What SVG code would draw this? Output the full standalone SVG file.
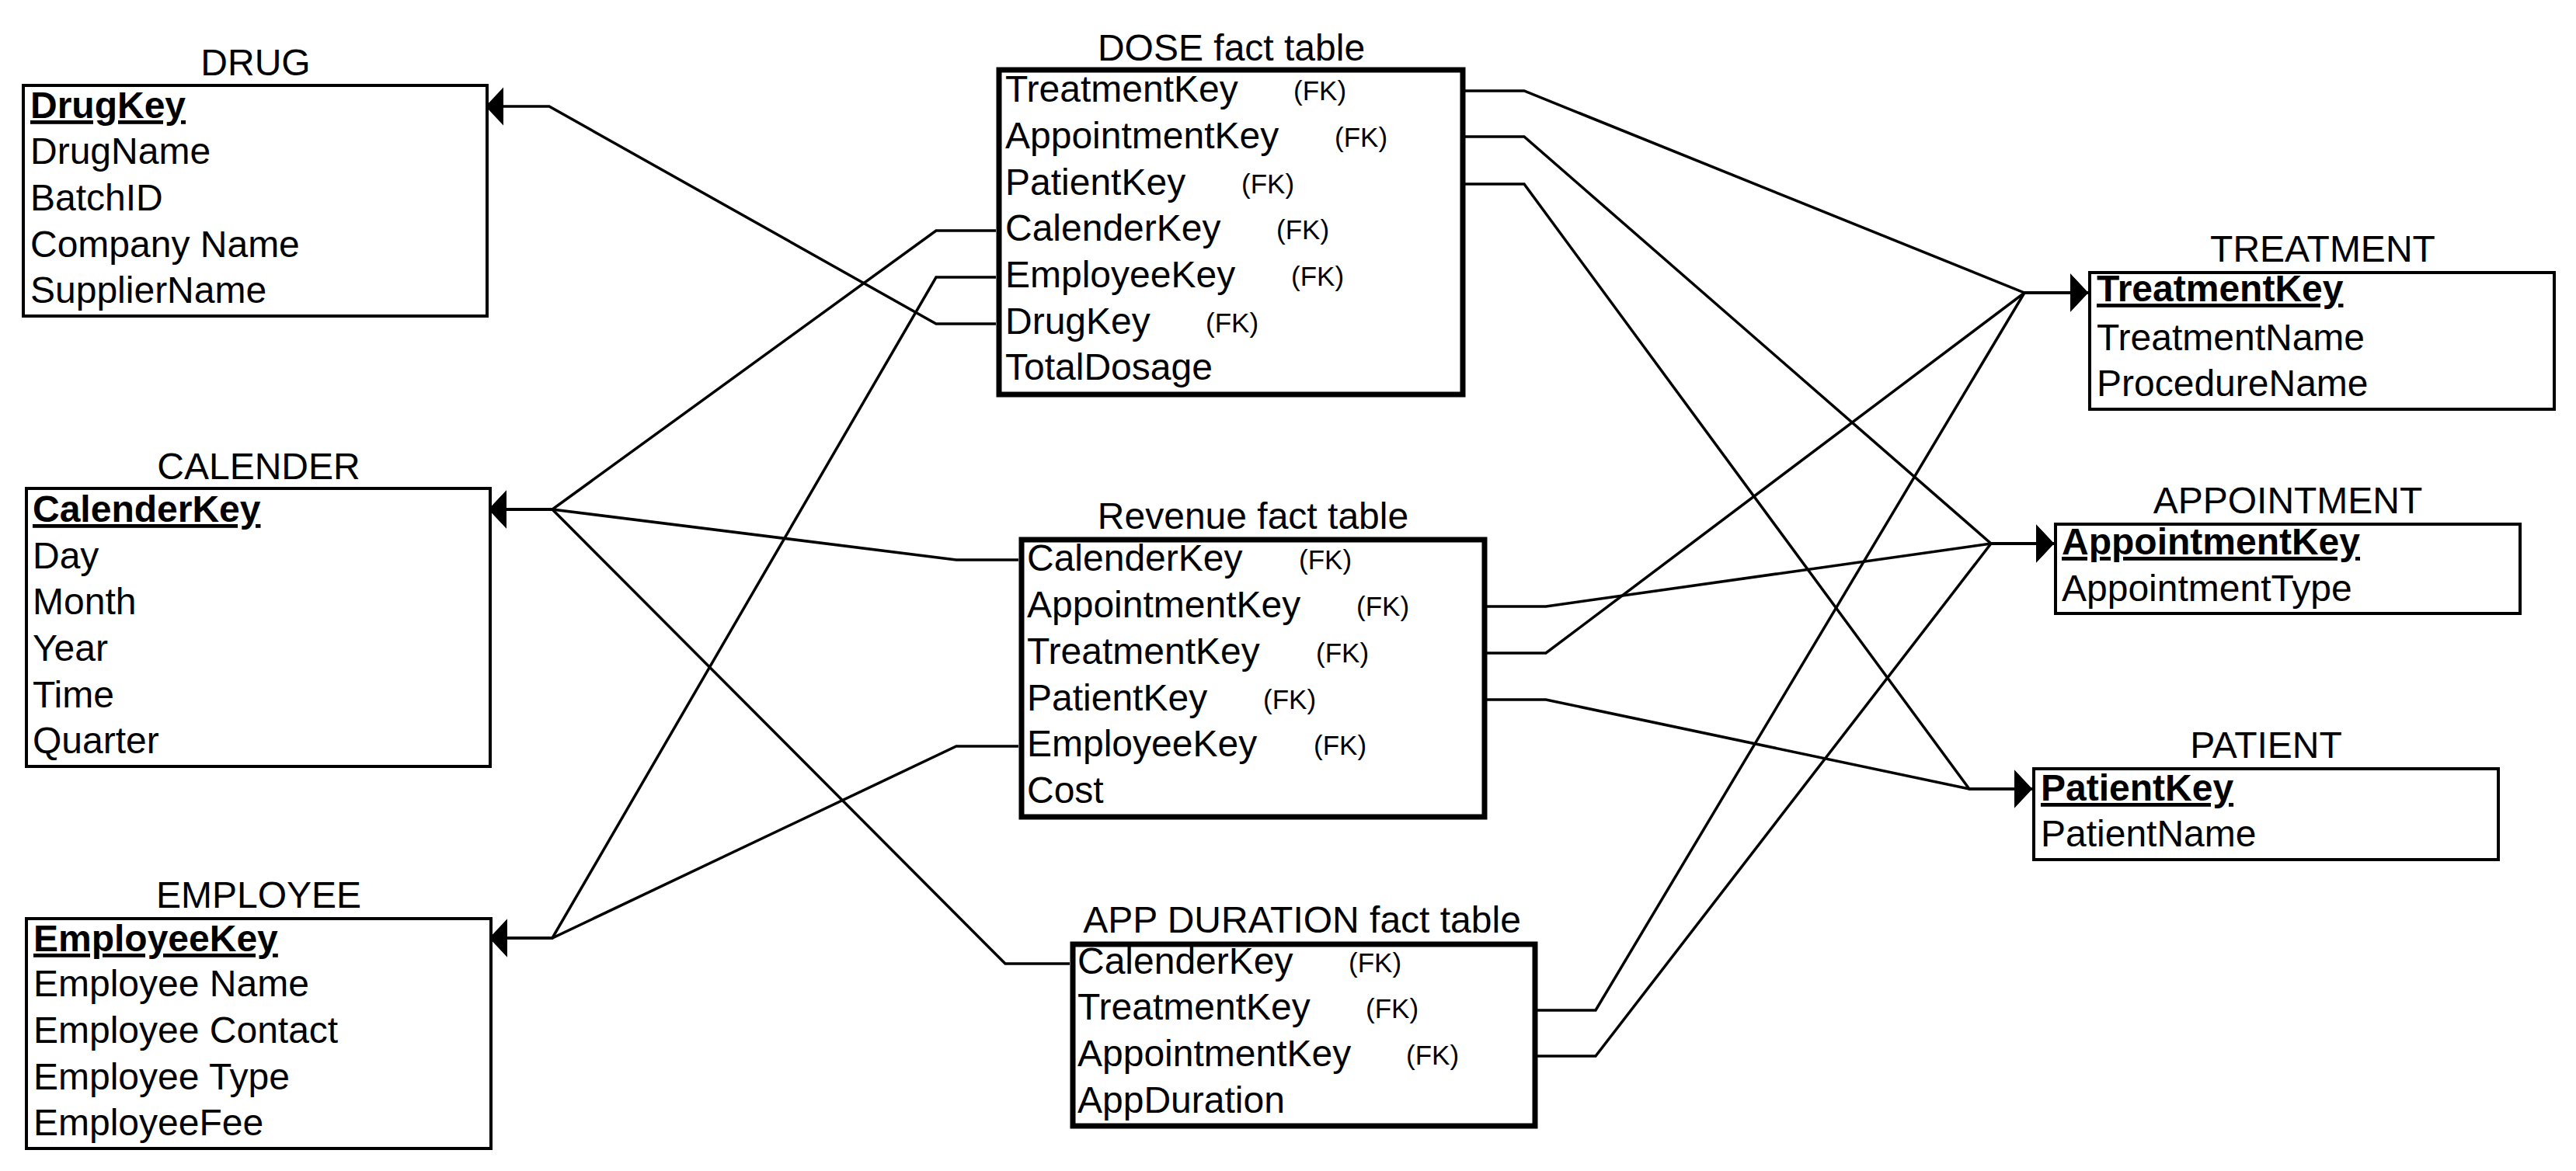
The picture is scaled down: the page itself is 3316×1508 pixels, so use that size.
<svg xmlns="http://www.w3.org/2000/svg" width="3316" height="1508" viewBox="0 0 3316 1508">
<style>
text{font-family:"Liberation Sans",Arial,sans-serif;fill:#000}
.t{font-size:48px;text-anchor:middle}
.r{font-size:48px}
.k{font-size:48px;font-weight:bold;text-decoration:underline}
.fk{font-size:35px}
.dim{fill:#fff;stroke:#000;stroke-width:4}
.fact{fill:#fff;stroke:#000;stroke-width:7}
.c{fill:none;stroke:#000;stroke-width:3.5;marker-end:url(#arr)}
</style>
<defs>
<marker id="arr" markerUnits="userSpaceOnUse" markerWidth="26" markerHeight="52" refX="23" refY="25" orient="auto" viewBox="0 0 26 52">
<path d="M0,0.5 L23,25 L0,49.5 Z" fill="#000"/>
</marker>
</defs>
<rect width="3316" height="1508" fill="#fff"/>
<g id="connectors">
<path class="c" d="M1282,417 H1205 L707,137 H625"/>
<path class="c" d="M1282,297 H1205 L711,656 H629"/>
<path class="c" d="M1311,721 H1231 L711,656 H629"/>
<path class="c" d="M1377,1241 H1294 L711,656 H629"/>
<path class="c" d="M1282,357 H1205 L711,1208 H630"/>
<path class="c" d="M1311,961 H1231 L711,1208 H630"/>
<path class="c" d="M1886,117 H1962 L2606,377 H2688"/>
<path class="c" d="M1914,841 H1990 L2606,377 H2688"/>
<path class="c" d="M1979,1301 H2054 L2606,377 H2688"/>
<path class="c" d="M1886,176 H1962 L2563,700 H2644"/>
<path class="c" d="M1914,781 H1990 L2563,700 H2644"/>
<path class="c" d="M1979,1360 H2054 L2563,700 H2644"/>
<path class="c" d="M1886,237 H1962 L2535,1016 H2616"/>
<path class="c" d="M1914,901 H1990 L2535,1016 H2616"/>
</g>
<g id="drug">
<text class="t" x="329" y="97">DRUG</text>
<rect class="dim" x="30" y="110" width="597" height="297"/>
<text class="k" x="39" y="152">DrugKey</text>
<text class="r" x="39" y="211">DrugName</text>
<text class="r" x="39" y="271">BatchID</text>
<text class="r" x="39" y="331">Company Name</text>
<text class="r" x="39" y="390">SupplierName</text>
</g>
<g id="calender">
<text class="t" x="333" y="617">CALENDER</text>
<rect class="dim" x="34" y="629" width="597" height="358"/>
<text class="k" x="42" y="672">CalenderKey</text>
<text class="r" x="42" y="732">Day</text>
<text class="r" x="42" y="791">Month</text>
<text class="r" x="42" y="851">Year</text>
<text class="r" x="42" y="911">Time</text>
<text class="r" x="42" y="970">Quarter</text>
</g>
<g id="employee">
<text class="t" x="333" y="1169">EMPLOYEE</text>
<rect class="dim" x="34" y="1183" width="598" height="296"/>
<text class="k" x="43" y="1225">EmployeeKey</text>
<text class="r" x="43" y="1283">Employee Name</text>
<text class="r" x="43" y="1343">Employee Contact</text>
<text class="r" x="43" y="1403">Employee Type</text>
<text class="r" x="43" y="1462">EmployeeFee</text>
</g>
<g id="dose">
<text class="t" x="1585" y="78">DOSE fact table</text>
<rect class="fact" x="1286" y="90" width="597" height="418"/>
<text class="r" x="1294" y="131">TreatmentKey</text><text class="fk" x="1665" y="129">(FK)</text>
<text class="r" x="1294" y="191">AppointmentKey</text><text class="fk" x="1718" y="189">(FK)</text>
<text class="r" x="1294" y="251">PatientKey</text><text class="fk" x="1598" y="249">(FK)</text>
<text class="r" x="1294" y="310">CalenderKey</text><text class="fk" x="1643" y="308">(FK)</text>
<text class="r" x="1294" y="370">EmployeeKey</text><text class="fk" x="1662" y="368">(FK)</text>
<text class="r" x="1294" y="430">DrugKey</text><text class="fk" x="1552" y="428">(FK)</text>
<text class="r" x="1294" y="489">TotalDosage</text>
</g>
<g id="revenue">
<text class="t" x="1613" y="681">Revenue fact table</text>
<rect class="fact" x="1315" y="695" width="596" height="357"/>
<text class="r" x="1322" y="735">CalenderKey</text><text class="fk" x="1672" y="733">(FK)</text>
<text class="r" x="1322" y="795">AppointmentKey</text><text class="fk" x="1746" y="793">(FK)</text>
<text class="r" x="1322" y="855">TreatmentKey</text><text class="fk" x="1694" y="853">(FK)</text>
<text class="r" x="1322" y="915">PatientKey</text><text class="fk" x="1626" y="913">(FK)</text>
<text class="r" x="1322" y="974">EmployeeKey</text><text class="fk" x="1691" y="972">(FK)</text>
<text class="r" x="1322" y="1034">Cost</text>
</g>
<g id="appduration">
<text class="t" x="1676" y="1201">APP DURATION fact table</text>
<rect class="fact" x="1381" y="1216" width="595" height="234"/>
<text class="r" x="1387" y="1254">CalenderKey</text><text class="fk" x="1736" y="1252">(FK)</text>
<text class="r" x="1387" y="1313">TreatmentKey</text><text class="fk" x="1758" y="1311">(FK)</text>
<text class="r" x="1387" y="1373">AppointmentKey</text><text class="fk" x="1810" y="1371">(FK)</text>
<text class="r" x="1387" y="1433">AppDuration</text>
</g>
<g id="treatment">
<text class="t" x="2990" y="337">TREATMENT</text>
<rect class="dim" x="2690" y="351" width="598" height="176"/>
<text class="k" x="2699" y="388">TreatmentKey</text>
<text class="r" x="2699" y="451">TreatmentName</text>
<text class="r" x="2699" y="510">ProcedureName</text>
</g>
<g id="appointment">
<text class="t" x="2945" y="661">APPOINTMENT</text>
<rect class="dim" x="2646" y="675" width="598" height="115"/>
<text class="k" x="2654" y="714">AppointmentKey</text>
<text class="r" x="2654" y="774">AppointmentType</text>
</g>
<g id="patient">
<text class="t" x="2917" y="976">PATIENT</text>
<rect class="dim" x="2618" y="990" width="598" height="117"/>
<text class="k" x="2627" y="1031">PatientKey</text>
<text class="r" x="2627" y="1090">PatientName</text>
</g>
</svg>
